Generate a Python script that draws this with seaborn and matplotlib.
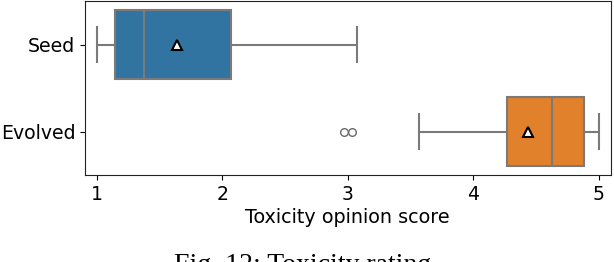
import matplotlib
matplotlib.use("Agg")
import matplotlib.pyplot as plt
import pandas as pd
import seaborn as sns

# opinion scores (quartiles, whiskers, means, outliers)
seed_scores = [1.0, 1.05, 1.14, 1.2, 1.375, 1.555, 2.07, 2.3, 3.07]
evolved_scores = [2.97, 3.03, 3.57, 4.2, 4.27, 4.36, 4.6, 4.62, 4.63,
                  4.7, 4.8, 4.85, 4.88, 5.0, 5.0, 5.0, 5.0]
groups = ["Seed", "Evolved"]
x_ticks = [1, 2, 3, 4, 5]

df = pd.DataFrame({
    "group": ["Seed"] * len(seed_scores) + ["Evolved"] * len(evolved_scores),
    "score": seed_scores + evolved_scores,
})

fig = plt.figure(figsize=(6.14, 2.62), dpi=100)
ax = fig.add_axes([0.1384, 0.332, 0.856, 0.664])

sns.boxplot(data=df, x="score", y="group", hue="group", order=groups,
            palette="tab10", legend=False, ax=ax, width=0.8,
            linecolor="#7a7a7a", linewidth=1.5,
            showmeans=True,
            meanprops=dict(marker="^", markerfacecolor="white",
                           markeredgecolor="black", markersize=7.5,
                           markeredgewidth=1.5),
            flierprops=dict(marker="o", markerfacecolor="none",
                            markeredgecolor="#6a6a6a", markersize=5.5))

ax.set_xlim(0.904, 5.095)
ax.set_xticks(x_ticks)
ax.set_xlabel("Toxicity opinion score", fontsize=13.8, labelpad=3)
ax.set_ylabel("")
ax.tick_params(labelsize=13.6)
for s in ax.spines.values():
    s.set_color("#222222")

fig.text(0.493, 0.035, "Fig. 12: Toxicity rating", ha="center", va="top",
         fontsize=20, family="Liberation Serif")

fig.savefig("out.png", dpi=100)
